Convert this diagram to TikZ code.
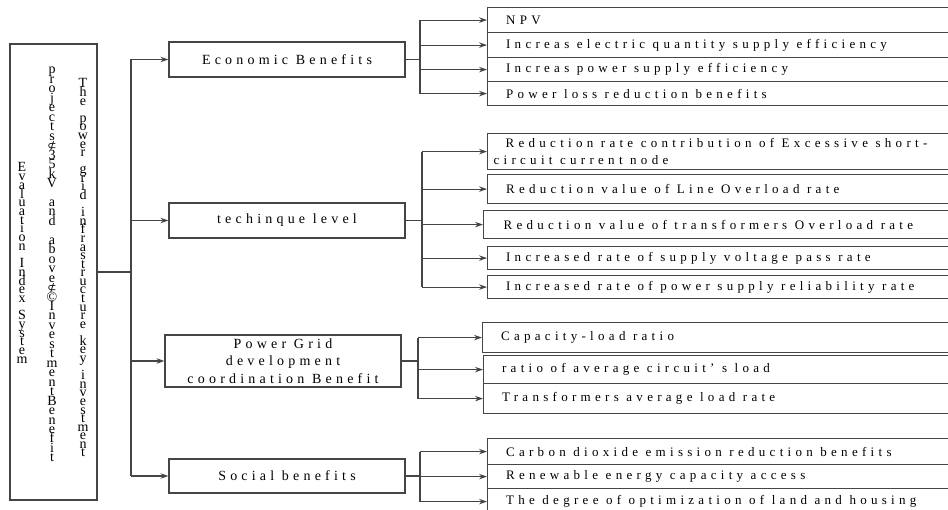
\documentclass[tikz,border=0pt]{standalone}
\usepackage{fontspec}
\setmainfont{Liberation Serif}
\newfontfamily\catfont[LetterSpace=30]{Liberation Serif}
\newfontfamily\leaffont[LetterSpace=33]{Liberation Serif}
\newfontfamily\symfont{DejaVu Sans}
\usetikzlibrary{arrows.meta}
\definecolor{lc}{HTML}{454545}

\NewDocumentCommand\leafsetup{}{\leaffont\fontsize{13}{17}\selectfont}
\NewDocumentCommand\lt{m}{\makebox[470pt][l]{#1}}

\ExplSyntaxOn
\NewDocumentCommand\vstack{mm}
 {
  \vtop
   {
    \baselineskip=#1\relax
    \lineskiplimit=-\maxdimen
    \lineskip=0pt
    \str_map_inline:nn {#2}
     {
      \str_if_eq:nnTF {##1} {⊄}
       { \hbox_to_wd:nn {1.2em} { \hss {\symfont\fontsize{11}{11}\selectfont ⊄} \hss } }
       { \hbox_to_wd:nn {1.2em} { \hss ##1 \hss } }
     }
   }
 }
\ExplSyntaxOff

\begin{document}
\begin{tikzpicture}[x=1pt,y=-1pt,
  ln/.style={draw=lc, line width=1.1pt},
  arr/.style={ln, -{Stealth[length=8pt,width=5.5pt]}},
  box/.style={draw=lc, line width=1.2pt, inner sep=0pt},
  cat/.style={box, minimum width=236pt, font=\catfont\fontsize{14}{17.5}\selectfont, align=center},
  leaf/.style={box, anchor=north west, inner xsep=18.5pt, align=left, font=\leafsetup},
  col/.style={anchor=base, inner sep=0pt, font=\fontsize{14}{14}\selectfont}
]
\useasboundingbox (0,0) rectangle (948,510);
\clip (0,0) rectangle (948,510);

% root
\node[box, minimum width=87pt, minimum height=456pt] (root) at (53.5,272) {};
\node[col] (t1) at (22,172) {\vstack{8.7pt}{Evaluation Index System}};
\node[col] (t2) at (52,74) {\vstack{9.46pt}{projects⊄35kV and above⊄©InvestmentBenefit}};
\node[col] (t3) at (83,88) {\vstack{8.58pt}{The power grid infrastructure key investment}};

% categories
\node[cat, minimum height=35pt] (c1) at (287,59.5) {Economic Benefits};
\node[cat, minimum height=35pt] (c2) at (287,220.5) {techinque level};
\node[cat, minimum height=52pt] (c3) at (283,361) {Power Grid\\development\\coordination Benefit};
\node[cat, minimum height=34pt] (c4) at (287,476) {Social benefits};

% leaves: economic
\node[leaf, minimum height=25pt] (l11) at (487,7) {\lt{NPV}};
\node[leaf, minimum height=25pt] (l12) at (487,32) {\lt{Increas electric quantity supply efficiency}};
\node[leaf, minimum height=24pt] (l13) at (487,57) {\lt{Increas power supply efficiency}};
\node[leaf, minimum height=24pt] (l14) at (487,81) {\lt{Power loss reduction benefits}};
% technique
\node[leaf, minimum height=36pt, inner xsep=6pt] (l21) at (487,133) {\lt{\hspace*{12pt}Reduction rate contribution of Excessive short-}\\\lt{circuit current node}};
\node[leaf, minimum height=29pt] (l22) at (487,174) {\lt{Reduction value of Line Overload rate}};
\node[leaf, minimum height=28pt, inner xsep=20pt] (l23) at (483,210) {\lt{Reduction value of transformers Overload rate}};
\node[leaf, minimum height=23pt] (l24) at (487,246) {\lt{Increased rate of supply voltage pass rate}};
\node[leaf, minimum height=23pt] (l25) at (487,275) {\lt{Increased rate of power supply reliability rate}};
% power grid
\node[leaf, minimum height=30pt] (l31) at (482,322) {\lt{Capacity-load ratio}};
\node[leaf, minimum height=28pt] (l32) at (483,355) {\lt{ratio of average circuit’ s load}};
\node[leaf, minimum height=30pt] (l33) at (483,383) {\lt{Transformers average load rate}};
% social
\node[leaf, minimum height=26pt] (l41) at (487,438) {\lt{Carbon dioxide emission reduction benefits}};
\node[leaf, minimum height=24pt] (l42) at (487,464) {\lt{Renewable energy capacity access}};
\node[leaf, minimum height=26pt] (l43) at (487,488) {\lt{The degree of optimization of land and housing}};

% trunk
\coordinate (tr) at (131,272);
\draw[ln] (root.east) -- (tr);
\draw[ln] (tr |- c1.west) -- (tr |- c4.west);
\foreach \c in {c1,c2,c3,c4} \draw[arr] (tr |- \c.west) -- (\c.west);

% branches
\coordinate (b1) at (420,59.5);
\coordinate (b2) at (422,220.5);
\coordinate (b3) at (418,361);
\coordinate (b4) at (420,476);
\draw[ln] (c1.east) -- (b1);
\draw[ln] (c2.east) -- (b2);
\draw[ln] (c3.east) -- (b3);
\draw[ln] (c4.east) -- (b4);
\draw[ln] (b1 |- l11.west) -- (b1 |- l14.west);
\draw[ln] (b2 |- l21.west) -- (b2 |- l25.west);
\draw[ln] (b3 |- l31.west) -- (b3 |- l33.west);
\draw[ln] (b4 |- l41.west) -- (b4 |- l43.west);
\foreach \l in {l11,l12,l13,l14} \draw[arr] (b1 |- \l.west) -- (\l.west);
\foreach \l in {l21,l22,l23,l24,l25} \draw[arr] (b2 |- \l.west) -- (\l.west);
\foreach \l in {l31,l32,l33} \draw[arr] (b3 |- \l.west) -- (\l.west);
\foreach \l in {l41,l42,l43} \draw[arr] (b4 |- \l.west) -- (\l.west);
\end{tikzpicture}
\end{document}
